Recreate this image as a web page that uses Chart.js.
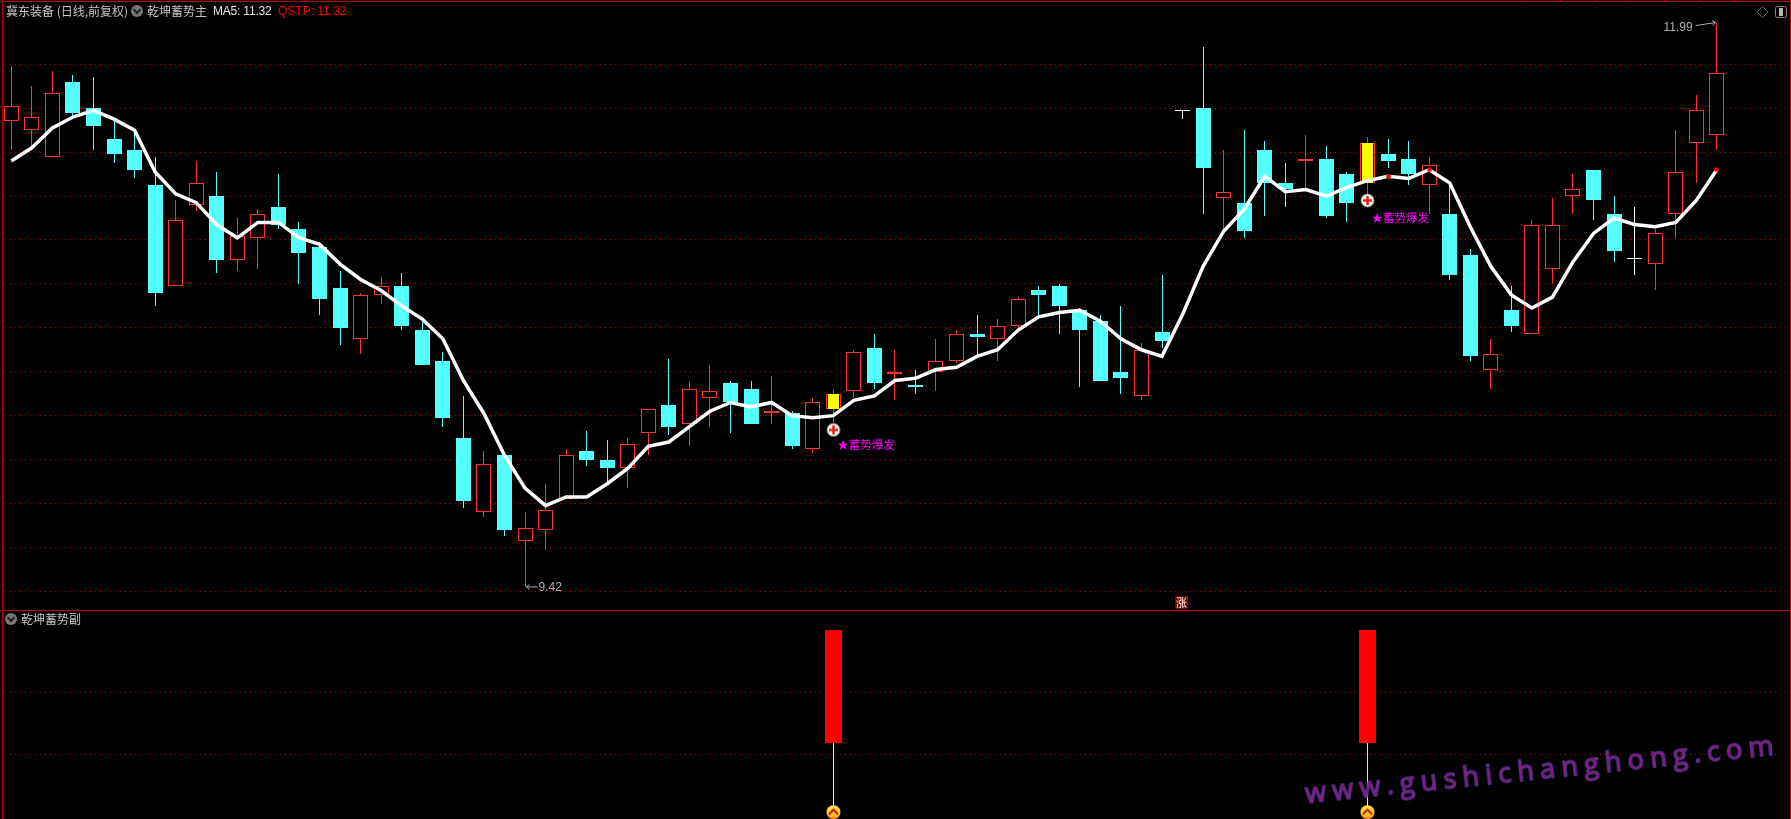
<!DOCTYPE html>
<html>
<head>
<meta charset="utf-8">
<title>冀东装备 乾坤蓄势</title>
<script src="https://cdn.jsdelivr.net/npm/chart.js@4/dist/chart.umd.min.js"></script>
<style>
    html, body { margin: 0; padding: 0; background: #000; overflow: hidden; }
    #wrap { position: relative; width: 1791px; height: 819px; background: #000; overflow: hidden; }
    canvas { position: absolute; left: 0; }
    #mainChart { top: 0; }
    #subChart { top: 611px; }
    .edge { position: absolute; background: #c00000; }
    .txt { position: absolute; white-space: nowrap; line-height: 14px; font-size: 12px; color: #c4c4c4; font-family: "Noto Sans CJK SC", sans-serif; }
    .num { font-family: "Liberation Sans", sans-serif; font-size: 12px; }
    .dot { position: absolute; width: 12px; height: 12px; border-radius: 50%; background: #777; }
    .dot:after { content: ""; position: absolute; left: 3px; top: 2px; width: 4px; height: 4px; border: solid #222; border-width: 0 2px 2px 0; transform: rotate(45deg); }
    #mark {
        position: absolute; left: 1307px; top: 775px; white-space: nowrap;
        font: 400 27px "Open Sans", sans-serif; letter-spacing: 6.3px; line-height: 36px;
        color: #84197f; -webkit-text-stroke: 1.4px #43439a; paint-order: stroke fill;
        transform-origin: 0 100%; transform: rotate(-5.9deg);
    }
</style>
</head>
<body>
<div id="wrap">
    <canvas id="mainChart" width="1791" height="610"></canvas>
    <canvas id="subChart" width="1791" height="208"></canvas>

    <div class="edge" style="left:0;top:1px;width:1791px;height:1px"></div>
    <div class="edge" style="left:0;top:610px;width:1791px;height:1px"></div>
    <div style="position:absolute;left:0;top:0;width:2px;height:819px;background:#000"></div>
    <div class="edge" style="left:2px;top:0;width:1px;height:819px"></div>
    <div class="edge" style="left:1790px;top:0;width:1px;height:819px"></div>
    <div id="ticks"></div>

    <div class="txt" style="left:6px;top:4px">冀东装备 (日线,前复权)</div>
    <div class="dot" style="left:131px;top:5px"></div>
    <div class="txt" style="left:147px;top:4px">乾坤蓄势主</div>
    <div class="txt num" style="left:213px;top:4px;color:#e4e4e4;letter-spacing:-0.2px">MA5: 11.32</div>
    <div class="txt num" style="left:278px;top:4px;color:#ff0000">QSTP: 11.32</div>
    <div class="dot" style="left:5px;top:613px"></div>
    <div class="txt" style="left:21px;top:612px">乾坤蓄势副</div>

    <svg style="position:absolute;left:1755px;top:4px" width="32" height="16">
        <path d="M7.5 2.5 L13 8 L7.5 13.5 L2 8 Z" fill="none" stroke="#666"/>
        <rect x="20.5" y="2.5" width="11" height="11" rx="2" fill="none" stroke="#888"/>
        <rect x="24" y="4" width="4" height="8" fill="#bbb"/>
    </svg>

    <div id="mark">www.gushichanghong.com</div>
</div>

<script>
// K线数据
const opens = [11.54, 11.50, 11.38, 11.72, 11.60, 11.46, 11.41, 11.25, 10.79, 11.16, 11.20, 10.91, 11.01, 11.15, 11.05, 10.97, 10.78, 10.55, 10.75, 10.79, 10.59,
    10.45, 10.10, 9.76, 10.02, 9.63, 9.68, 9.82, 10.04, 10.00, 9.96, 10.12, 10.25, 10.16, 10.28, 10.35, 10.32, 10.21, 10.21, 10.05, 10.23, 10.31,
    10.51, 10.39, 10.34, 10.40, 10.45, 10.57, 10.55, 10.61, 10.77, 10.79, 10.68, 10.63, 10.40, 10.29, 10.58, 11.59, 11.60, 11.19, 11.17, 11.41, 11.26,
    11.36, 11.37, 11.30, 11.26, 11.39, 11.37, 11.25, 11.12, 10.93, 10.41, 10.68, 10.57, 10.87, 11.20, 11.32, 11.12, 10.92, 10.89, 11.12, 11.44, 11.48];
const closes = [11.61, 11.56, 11.67, 11.58, 11.52, 11.39, 11.32, 10.76, 11.09, 11.26, 10.91, 11.02, 11.12, 11.07, 10.94, 10.73, 10.60, 10.75, 10.79, 10.61, 10.43,
    10.19, 9.81, 9.98, 9.68, 9.69, 9.77, 10.02, 10.00, 9.96, 10.07, 10.23, 10.15, 10.32, 10.31, 10.26, 10.16, 10.22, 10.06, 10.26, 10.30, 10.49,
    10.35, 10.40, 10.33, 10.45, 10.57, 10.56, 10.61, 10.73, 10.75, 10.70, 10.59, 10.36, 10.37, 10.50, 10.54, 11.59, 11.33, 11.22, 11.04, 11.26, 11.23,
    11.37, 11.11, 11.17, 11.44, 11.36, 11.30, 11.34, 10.84, 10.47, 10.48, 10.61, 11.07, 11.07, 11.23, 11.18, 10.95, 10.92, 11.03, 11.31, 11.59, 11.76];
const highs = [11.79, 11.70, 11.77, 11.75, 11.74, 11.54, 11.49, 11.38, 11.18, 11.36, 11.31, 11.10, 11.14, 11.30, 11.08, 10.99, 10.86, 10.76, 10.83, 10.85, 10.65,
    10.49, 10.29, 10.04, 10.03, 9.76, 9.89, 10.05, 10.13, 10.09, 10.10, 10.23, 10.46, 10.36, 10.43, 10.36, 10.36, 10.38, 10.22, 10.28, 10.32, 10.50,
    10.57, 10.50, 10.41, 10.55, 10.59, 10.66, 10.64, 10.74, 10.79, 10.80, 10.69, 10.66, 10.70, 10.53, 10.84, 11.59, 11.88, 11.41, 11.50, 11.45, 11.35,
    11.48, 11.43, 11.31, 11.47, 11.46, 11.45, 11.38, 11.27, 10.96, 10.55, 10.79, 11.09, 11.19, 11.30, 11.32, 11.20, 11.15, 11.05, 11.50, 11.66, 11.99];
const lows = [11.41, 11.43, 11.38, 11.56, 11.41, 11.35, 11.28, 10.70, 10.79, 11.13, 10.85, 10.86, 10.87, 11.05, 10.80, 10.66, 10.52, 10.48, 10.71, 10.59, 10.43,
    10.15, 9.78, 9.74, 9.65, 9.42, 9.59, 9.82, 9.97, 9.90, 9.87, 10.02, 10.11, 10.06, 10.15, 10.12, 10.16, 10.16, 10.05, 10.03, 10.17, 10.28,
    10.32, 10.27, 10.30, 10.31, 10.44, 10.47, 10.45, 10.59, 10.66, 10.57, 10.33, 10.36, 10.30, 10.27, 10.51, 11.55, 11.12, 11.05, 11.01, 11.11, 11.15,
    11.23, 11.10, 11.08, 11.21, 11.33, 11.25, 11.12, 10.82, 10.45, 10.32, 10.58, 10.57, 10.80, 11.12, 11.09, 10.90, 10.84, 10.77, 11.01, 11.26, 11.41];
const ma5 = [11.36, 11.42, 11.51, 11.56, 11.59, 11.55, 11.50, 11.31, 11.21, 11.17, 11.07, 11.01, 11.08, 11.08, 11.01, 10.98, 10.89, 10.82, 10.77, 10.70, 10.64,
    10.55, 10.36, 10.21, 10.02, 9.87, 9.79, 9.83, 9.83, 9.89, 9.96, 10.06, 10.08, 10.15, 10.22, 10.26, 10.24, 10.26, 10.20, 10.19, 10.20, 10.27,
    10.29, 10.36, 10.37, 10.41, 10.42, 10.47, 10.50, 10.59, 10.65, 10.67, 10.68, 10.63, 10.55, 10.50, 10.47, 10.66, 10.88, 11.04, 11.14, 11.29, 11.22,
    11.23, 11.20, 11.24, 11.27, 11.29, 11.28, 11.32, 11.26, 11.06, 10.88, 10.75, 10.69, 10.74, 10.90, 11.03, 11.10, 11.07, 11.06, 11.08, 11.18, 11.32];

// 红点 QSTP
const qstpIndex = [67, 69, 83];
const qstpValues = [11.29, 11.32, 11.32];

// 蓄势爆发信号
const signalIndex = [40, 66];
const signalCross = [10.135, 11.18];
const signalText = [10.07, 11.10];
const signalLabel = '★蓄势爆发';

// 副图
const subBarLow = [1.18, 1.18];
const subBarHigh = [3.0, 3.0];
const subIcon = [0.07, 0.07];

// 其它标注
const riseIndex = 57;
const riseLabel = '涨';
const mainGridTicks = [9.4, 9.6, 9.8, 10.0, 10.2, 10.4, 10.6, 10.8, 11.0, 11.2, 11.4, 11.6, 11.8];
const subGridTicks = [1, 2];

const indexes = opens.map((v, i) => i);
const RED = '#ff3232';
const CYAN = '#54ffff';
const bodyColor = i => closes[i] === opens[i] ? '#ffffff' : (closes[i] > opens[i] ? RED : CYAN);
const bodyFill = i => closes[i] > opens[i] ? '#000000' : bodyColor(i);

// 小图标
function makeIcon(draw) {
    const c = document.createElement('canvas');
    c.width = 15;
    c.height = 15;
    draw(c.getContext('2d'));
    return c;
}
const crossIcon = makeIcon(g => {
    g.fillStyle = '#f4f4f4';
    g.strokeStyle = '#8a8a8a';
    g.beginPath();
    g.arc(7.5, 7.5, 6.5, 0, Math.PI * 2);
    g.fill();
    g.stroke();
    g.fillStyle = '#f01818';
    g.fillRect(3, 6.3, 9, 2.4);
    g.fillRect(6.3, 3, 2.4, 9);
});
const upIcon = makeIcon(g => {
    const grad = g.createLinearGradient(0, 0, 0, 15);
    grad.addColorStop(0, '#ffe84a');
    grad.addColorStop(0.55, '#ffd028');
    grad.addColorStop(1, '#ff8a10');
    g.fillStyle = grad;
    g.beginPath();
    g.arc(7.5, 7.5, 7, 0, Math.PI * 2);
    g.fill();
    g.strokeStyle = '#c01010';
    g.lineWidth = 2;
    g.beginPath();
    g.moveTo(3, 9.5);
    g.lineTo(7.5, 5);
    g.lineTo(12, 9.5);
    g.stroke();
});

// 对齐到整像素,K线才不发虚
const snapPlugin = {
    id: 'snap',
    afterDatasetsUpdate(chart) {
        chart.getSortedVisibleDatasetMetas().forEach(meta => {
            if (meta.type === 'line') return;
            meta.data.forEach(el => {
                el.x = Math.floor(el.x) + 0.5;
                if (meta.type === 'bar') {
                    const top = Math.round(Math.min(el.y, el.base));
                    let bottom = Math.round(Math.max(el.y, el.base));
                    if (bottom - top < 1) bottom = top + 1;
                    el.y = top;
                    el.base = bottom;
                    el.height = bottom - top;
                }
            });
        });
    }
};

function arrow(ctx, x1, y1, x2, y2) {
    const a = Math.atan2(y2 - y1, x2 - x1);
    ctx.beginPath();
    ctx.moveTo(x1, y1);
    ctx.lineTo(x2, y2);
    ctx.lineTo(x2 - 4 * Math.cos(a - 0.7), y2 - 4 * Math.sin(a - 0.7));
    ctx.moveTo(x2, y2);
    ctx.lineTo(x2 - 4 * Math.cos(a + 0.7), y2 - 4 * Math.sin(a + 0.7));
    ctx.stroke();
}

// 主图文字标注
const notePlugin = {
    id: 'notes',
    afterDatasetsDraw(chart) {
        const { ctx, scales: { x, y } } = chart;
        ctx.save();
        ctx.textBaseline = 'middle';
        ctx.textAlign = 'left';

        ctx.fillStyle = '#ff00ff';
        ctx.font = '11.5px "Noto Sans CJK SC"';
        signalIndex.forEach((idx, k) => {
            ctx.fillText(signalLabel, x.getPixelForValue(idx) + 4, y.getPixelForValue(signalText[k]));
        });

        // 最高最低价
        const hi = Math.max(...highs);
        const lo = Math.min(...lows);
        const hiX = Math.floor(x.getPixelForValue(highs.indexOf(hi))) + 0.5;
        const loX = Math.floor(x.getPixelForValue(lows.indexOf(lo))) + 0.5;
        ctx.font = '12px "Liberation Sans"';
        ctx.fillStyle = '#b0b0b0';
        ctx.strokeStyle = '#b0b0b0';
        ctx.fillText(hi.toFixed(2), hiX - 53, y.getPixelForValue(hi) + 5);
        arrow(ctx, hiX - 21, y.getPixelForValue(hi) + 3, hiX - 1, y.getPixelForValue(hi));
        ctx.fillText(lo.toFixed(2), loX + 13, y.getPixelForValue(lo) + 1);
        arrow(ctx, loX + 12, y.getPixelForValue(lo), loX + 1, y.getPixelForValue(lo));

        // 涨 标记
        const rx = Math.floor(x.getPixelForValue(riseIndex));
        ctx.fillStyle = '#7a0000';
        ctx.fillRect(rx - 7, 596, 13, 13);
        ctx.fillStyle = '#ffffff';
        ctx.textAlign = 'center';
        ctx.font = '11px "Noto Sans CJK SC"';
        ctx.fillText(riseLabel, rx - 0.5, 602.5);
        ctx.restore();
    }
};

const xAxis = { type: 'linear', display: false, offset: false, min: -0.55, max: 86.61 };

function yAxis(min, max, ticks) {
    return {
        min: min,
        max: max,
        // 网格线用点线
        border: { display: false, dash: [1, 4] },
        grid: { color: '#c80000', lineWidth: 1, drawTicks: false },
        ticks: { display: false },
        afterBuildTicks: axis => { axis.ticks = ticks.map(v => ({ value: v })); }
    };
}

function bars(label, data, width, order, fill, line, border) {
    return {
        label: label,
        data: data,
        grouped: false,
        barPercentage: 1,
        categoryPercentage: 1,
        maxBarThickness: width,
        inflateAmount: 0,
        borderSkipped: false,
        borderWidth: border || 0,
        backgroundColor: fill,
        borderColor: line || fill,
        order: order
    };
}

document.addEventListener('DOMContentLoaded', function () {
    const ticks = document.getElementById('ticks');
    for (let tx = 1525; tx < 1790; tx += 34.8) {
        const t = document.createElement('div');
        t.className = 'edge';
        t.style.cssText = `left:${Math.round(tx)}px;top:0;width:1px;height:2px`;
        ticks.appendChild(t);
    }

    new Chart(document.getElementById('mainChart'), {
        type: 'bar',
        data: {
            datasets: [
                bars('影线', indexes.map(i => ({ x: i, y: [lows[i], highs[i]] })), 1, 4, indexes.map(bodyColor)),
                bars('K线', indexes.map(i => ({ x: i, y: [opens[i], closes[i]] })), 15, 3, indexes.map(bodyFill), indexes.map(bodyColor), 1),
                bars('信号', signalIndex.map(i => ({ x: i, y: [opens[i], closes[i]] })), 11, 2, '#ffff00'),
                {
                    type: 'line',
                    label: 'MA5',
                    data: indexes.map(i => ({ x: i, y: ma5[i] })),
                    borderColor: '#ffffff',
                    borderWidth: 3.5,
                    pointRadius: 0,
                    tension: 0,
                    order: 1
                },
                {
                    type: 'scatter',
                    label: 'QSTP',
                    data: qstpIndex.map((i, k) => ({ x: i, y: qstpValues[k] })),
                    pointStyle: 'rectRounded',
                    pointRadius: 2.5,
                    backgroundColor: '#ff0000',
                    borderWidth: 0,
                    order: 0
                },
                {
                    type: 'scatter',
                    label: '买点',
                    data: signalIndex.map((i, k) => ({ x: i, y: signalCross[k] })),
                    pointStyle: crossIcon,
                    order: 0
                }
            ]
        },
        options: {
            responsive: false,
            animation: false,
            layout: { padding: 0, autoPadding: false },
            plugins: { legend: { display: false }, tooltip: { enabled: false } },
            scales: { x: xAxis, y: yAxis(9.315, 12.0928, mainGridTicks) }
        },
        plugins: [snapPlugin, notePlugin]
    });

    new Chart(document.getElementById('subChart'), {
        type: 'bar',
        data: {
            datasets: [
                bars('引线', signalIndex.map((i, k) => ({ x: i, y: [subIcon[k], subBarLow[k]] })), 1, 3, '#ffff00'),
                bars('信号柱', signalIndex.map((i, k) => ({ x: i, y: [subBarLow[k], subBarHigh[k]] })), 17, 2, '#ff0000'),
                {
                    type: 'scatter',
                    label: '箭头',
                    data: signalIndex.map((i, k) => ({ x: i, y: subIcon[k] })),
                    pointStyle: upIcon,
                    order: 1
                }
            ]
        },
        options: {
            responsive: false,
            animation: false,
            layout: { padding: 0, autoPadding: false },
            plugins: { legend: { display: false }, tooltip: { enabled: false } },
            scales: { x: xAxis, y: yAxis(-0.04, 3.31, subGridTicks) }
        },
        plugins: [snapPlugin]
    });
});
</script>
</body>
</html>
